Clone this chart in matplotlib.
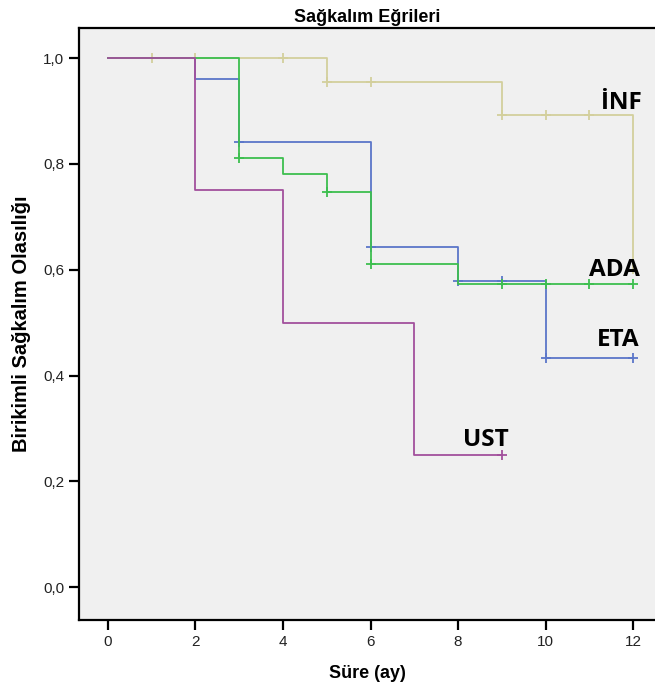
import numpy as np
import matplotlib.pyplot as plt
from matplotlib import font_manager

# Kaplan-Meier steps (time in months, survival)
inf_t = [0, 5, 9, 12]
inf_s = [1.0, 0.955, 0.892, 0.593]
inf_c = [1, 2, 4, 5, 6, 9, 10, 11]

eta_t = [0, 2, 3, 6, 8, 10, 12]
eta_s = [1.0, 0.960, 0.841, 0.643, 0.578, 0.433, 0.433]
eta_c = [3, 6, 8, 9, 10, 12]

ada_t = [0, 3, 4, 5, 6, 8, 12]
ada_s = [1.0, 0.812, 0.781, 0.747, 0.611, 0.573, 0.573]
ada_c = [3, 5, 6, 9, 10, 11, 12]

ust_t = [0, 2, 4, 7, 9]
ust_s = [1.0, 0.75, 0.50, 0.25, 0.25]
ust_c = [9]

groups = [
    ("İNF", inf_t, inf_s, inf_c, "#d3cf9c", (12.2, 0.915)),
    ("ETA", eta_t, eta_s, eta_c, "#5b76c9", (12.15, 0.467)),
    ("ADA", ada_t, ada_s, ada_c, "#3dbf4f", (12.15, 0.600)),
    ("UST", ust_t, ust_s, ust_c, "#a2509c", (9.15, 0.278)),
]

names = {f.name for f in font_manager.fontManager.ttflist}
narrow = "Liberation Sans Narrow" if "Liberation Sans Narrow" in names else "Liberation Sans"

fig = plt.figure(figsize=(6.55, 6.91), dpi=100)
ax = fig.add_axes([79 / 655, 1 - 620 / 691, 1 - 79 / 655, (620 - 28) / 691])
ax.set_facecolor("#f0f0f0")


def step_value(t, s, c):
    t = np.asarray(t)
    s = np.asarray(s)
    idx = np.searchsorted(t, c, side="right") - 1
    return s[idx]


for name, t, s, c, col, pos in groups:
    ax.plot(t, s, drawstyle="steps-post", color=col, lw=1.3)
    ax.plot(c, step_value(t, s, c), ls="none", marker="+", ms=7,
            mew=1.3, color=col)
    ax.text(pos[0], pos[1], name, ha="right", va="center",
            fontsize=17.5, fontweight="bold", family="Open Sans")

ax.set_xlim(-0.66, 12.5)
ax.set_ylim(-0.062, 1.057)
ax.set_xticks(range(0, 13, 2))
ax.set_yticks(np.arange(0, 1.01, 0.2))
ax.set_yticklabels([f"{v:.1f}".replace(".", ",") for v in np.arange(0, 1.01, 0.2)])

for side in ["left", "bottom", "top"]:
    ax.spines[side].set_linewidth(1.6)
ax.spines["right"].set_visible(False)
ax.tick_params(direction="out", length=7, width=1.6, labelsize=11,
               labelcolor="#222222")
for lab in ax.get_xticklabels() + ax.get_yticklabels():
    lab.set_family(narrow)

ax.set_title("Sağkalım Eğrileri", fontsize=13, fontweight="bold", pad=4,
             family=narrow)
ax.set_xlabel("Süre (ay)", fontsize=13, fontweight="bold", labelpad=12,
              family="Liberation Sans")
ax.set_ylabel("Birikimli Sağkalım Olasılığı", fontsize=14.5,
              fontweight="bold", labelpad=9, family="Liberation Sans")

fig.savefig("out.png", dpi=100)
